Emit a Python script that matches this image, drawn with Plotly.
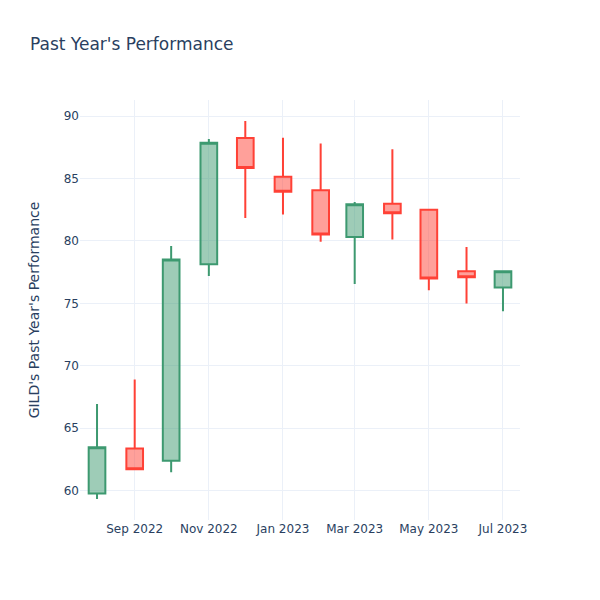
import plotly.graph_objects as go

dates = ["2022-08-01", "2022-09-01", "2022-10-01", "2022-11-01", "2022-12-01", "2023-01-01",
         "2023-02-01", "2023-03-01", "2023-04-01", "2023-05-01", "2023-06-01", "2023-07-01"]
open_ = [59.78, 63.37, 62.40, 78.13, 88.23, 85.13, 84.06, 80.32, 82.97, 82.49, 77.57, 76.26]
high = [66.93, 68.90, 79.60, 88.15, 89.60, 88.26, 87.80, 83.12, 87.33, 82.49, 79.52, 77.57]
low = [59.33, 61.70, 61.47, 77.19, 81.84, 82.11, 79.93, 76.55, 80.11, 76.04, 74.98, 74.36]
close = [63.47, 61.71, 78.50, 87.86, 85.83, 83.93, 80.51, 82.94, 82.22, 76.98, 77.08, 77.57]

fig = go.Figure(go.Candlestick(x=dates, open=open_, high=high, low=low, close=close))
fig.update_layout(
    template="plotly_white",
    width=600, height=600,
    font_family="DejaVu Sans",
    title="Past Year's Performance",
    yaxis_title="GILD's Past Year's Performance",
    yaxis_title_standoff=20,
    xaxis_rangeslider_visible=False,
)
fig.write_html("out.html", config={"displayModeBar": False},
               post_script="document.body.style.margin='0';")
